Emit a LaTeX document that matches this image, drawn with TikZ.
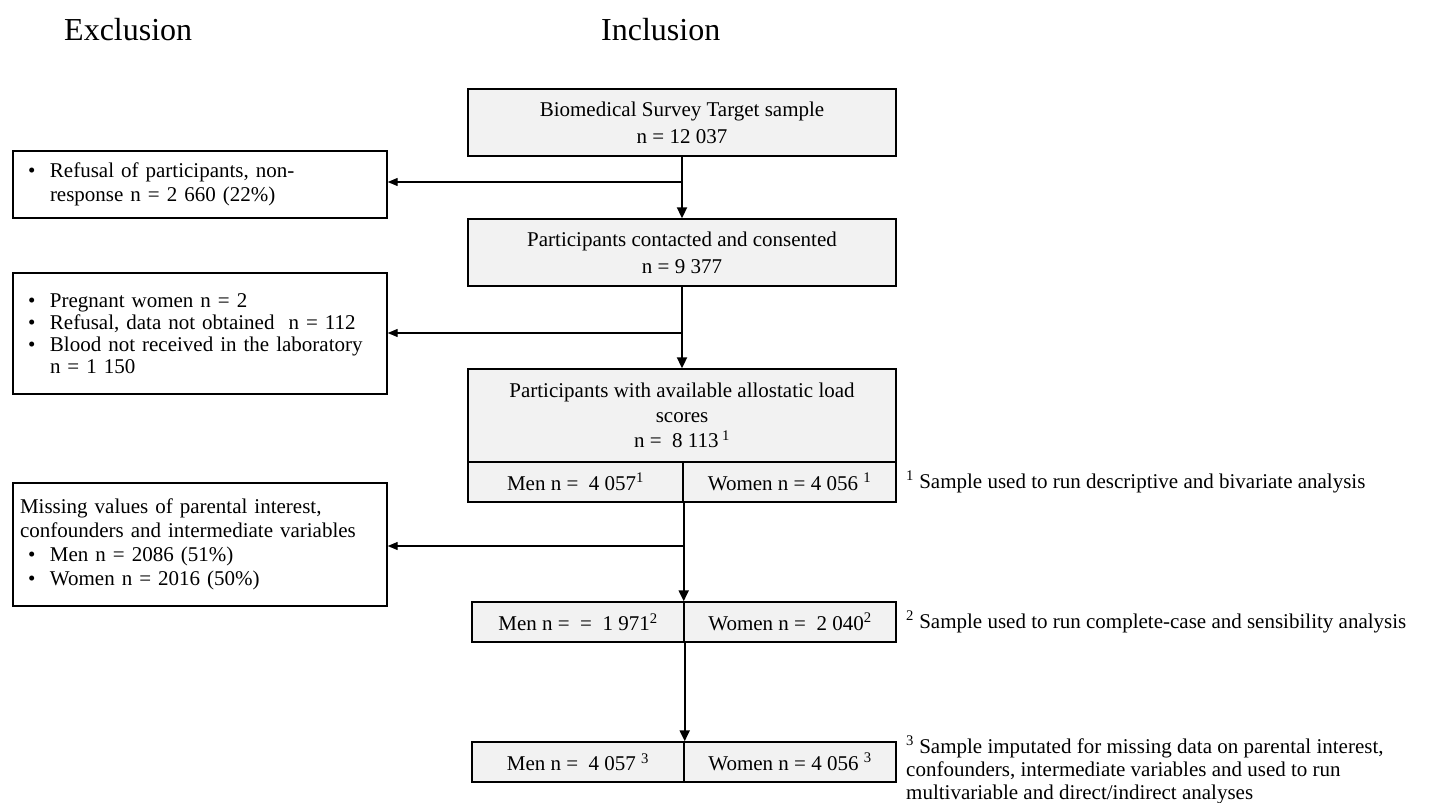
\documentclass[tikz,border=0pt]{standalone}
\usepackage{fontspec}
\setmainfont{Liberation Serif}
\usetikzlibrary{arrows.meta}
\definecolor{boxgray}{HTML}{F2F2F2}
\newcommand{\bul}{\makebox[30pt][l]{\hspace{8pt}\textbullet}}
\newcommand{\indt}{\hspace*{30pt}}
\tikzset{
  every node/.style={font=\fontsize{21pt}{24pt}\selectfont, inner sep=0pt},
  mainbox/.style={draw, line width=1.4pt, fill=boxgray, align=center, minimum width=428pt},
  cellbox/.style={draw, line width=1.4pt, fill=boxgray, align=center, minimum height=40pt},
  sidebox/.style={draw, line width=1.4pt, fill=white, text width=360pt, inner xsep=7pt, align=left},
  heading/.style={anchor=west, font=\fontsize{32pt}{36pt}\selectfont},
  note/.style={anchor=west},
  mainarr/.style={line width=2pt, -{Triangle[length=11pt,width=10pt]}},
  sidearr/.style={line width=1.3pt, -{Triangle[length=10pt,width=8pt]}}
}
\begin{document}
\begin{tikzpicture}[x=1pt,y=-1pt]
\useasboundingbox (0,0) rectangle (1449,803);
% headings
\node[heading] (hx) at (64,30) {Exclusion};
\node[heading] (hi) at (601,30) {Inclusion};
% main column
\node[mainbox, minimum height=67pt, font=\fontsize{21pt}{27pt}\selectfont] (b1) at (682,122.5) {Biomedical Survey Target sample\\n = 12 037};
\node[mainbox, minimum height=67pt, font=\fontsize{21pt}{27pt}\selectfont] (b2) at (682,252.5) {Participants contacted and consented\\n = 9 377};
\node[mainbox, minimum height=93pt, font=\fontsize{21pt}{25pt}\selectfont] (b3) at (682,415.5) {Participants with available allostatic load\\scores\\n = \ 8 113\,\textsuperscript{1}};
\node[cellbox, minimum width=215pt] (s1a) at (575.5,482) {Men n = \ 4 057\textsuperscript{1}};
\node[cellbox, minimum width=213pt] (s1b) at (789.5,482) {Women n = 4 056 \textsuperscript{1}};
\node[cellbox, minimum width=212pt] (r2a) at (578,622) {Men n = \ = \ 1 971\textsuperscript{2}};
\node[cellbox, minimum width=212pt] (r2b) at (790,622) {Women n = \ 2 040\textsuperscript{2}};
\node[cellbox, minimum width=212pt] (r3a) at (578,762) {Men n = \ 4 057 \textsuperscript{3}};
\node[cellbox, minimum width=212pt] (r3b) at (790,762) {Women n = 4 056 \textsuperscript{3}};
% exclusion boxes
\node[sidebox, minimum height=67pt] (lb1) at (200,184.5) {\bul Refusal of participants, non-\\\indt response n = 2 660 (22\%)};
\node[sidebox, minimum height=121pt, font=\fontsize{21pt}{22pt}\selectfont] (lb2) at (200,333.5) {\bul Pregnant women n = 2\\\bul Refusal, data not obtained \ n = 112\\\bul Blood not received in the laboratory\\\indt n = 1 150};
\node[sidebox, minimum height=123pt] (lb3) at (200,544.5) {Missing values of parental interest,\\confounders and intermediate variables\\\bul Men n = 2086 (51\%)\\\bul Women n = 2016 (50\%)};
% footnotes
\node[note] (f1) at (906,482) {\textsuperscript{1} Sample used to run descriptive and bivariate analysis};
\node[note] (f2) at (906,622) {\textsuperscript{2} Sample used to run complete-case and sensibility analysis};
\node[anchor=north west, align=left, font=\fontsize{21pt}{23pt}\selectfont] (f3) at (906,736) {\textsuperscript{3} Sample imputated for missing data on parental interest,\\confounders, intermediate variables and used to run\\multivariable and direct/indirect analyses};
% connectors
\coordinate (j1) at (682,182);
\coordinate (j2) at (682,333);
\coordinate (j3) at (683,546);
\draw[mainarr] (b1) -- (b2);
\draw[sidearr] (j1) -- (j1 -| lb1.east);
\draw[mainarr] (b2) -- (b3);
\draw[sidearr] (j2) -- (j2 -| lb2.east);
\draw[mainarr] (s1a.south east) -- (s1a.south east |- r2a.north);
\draw[sidearr] (j3) -- (j3 -| lb3.east);
\draw[mainarr] (r2a.south east) -- (r2a.south east |- r3a.north);
\end{tikzpicture}
\end{document}
